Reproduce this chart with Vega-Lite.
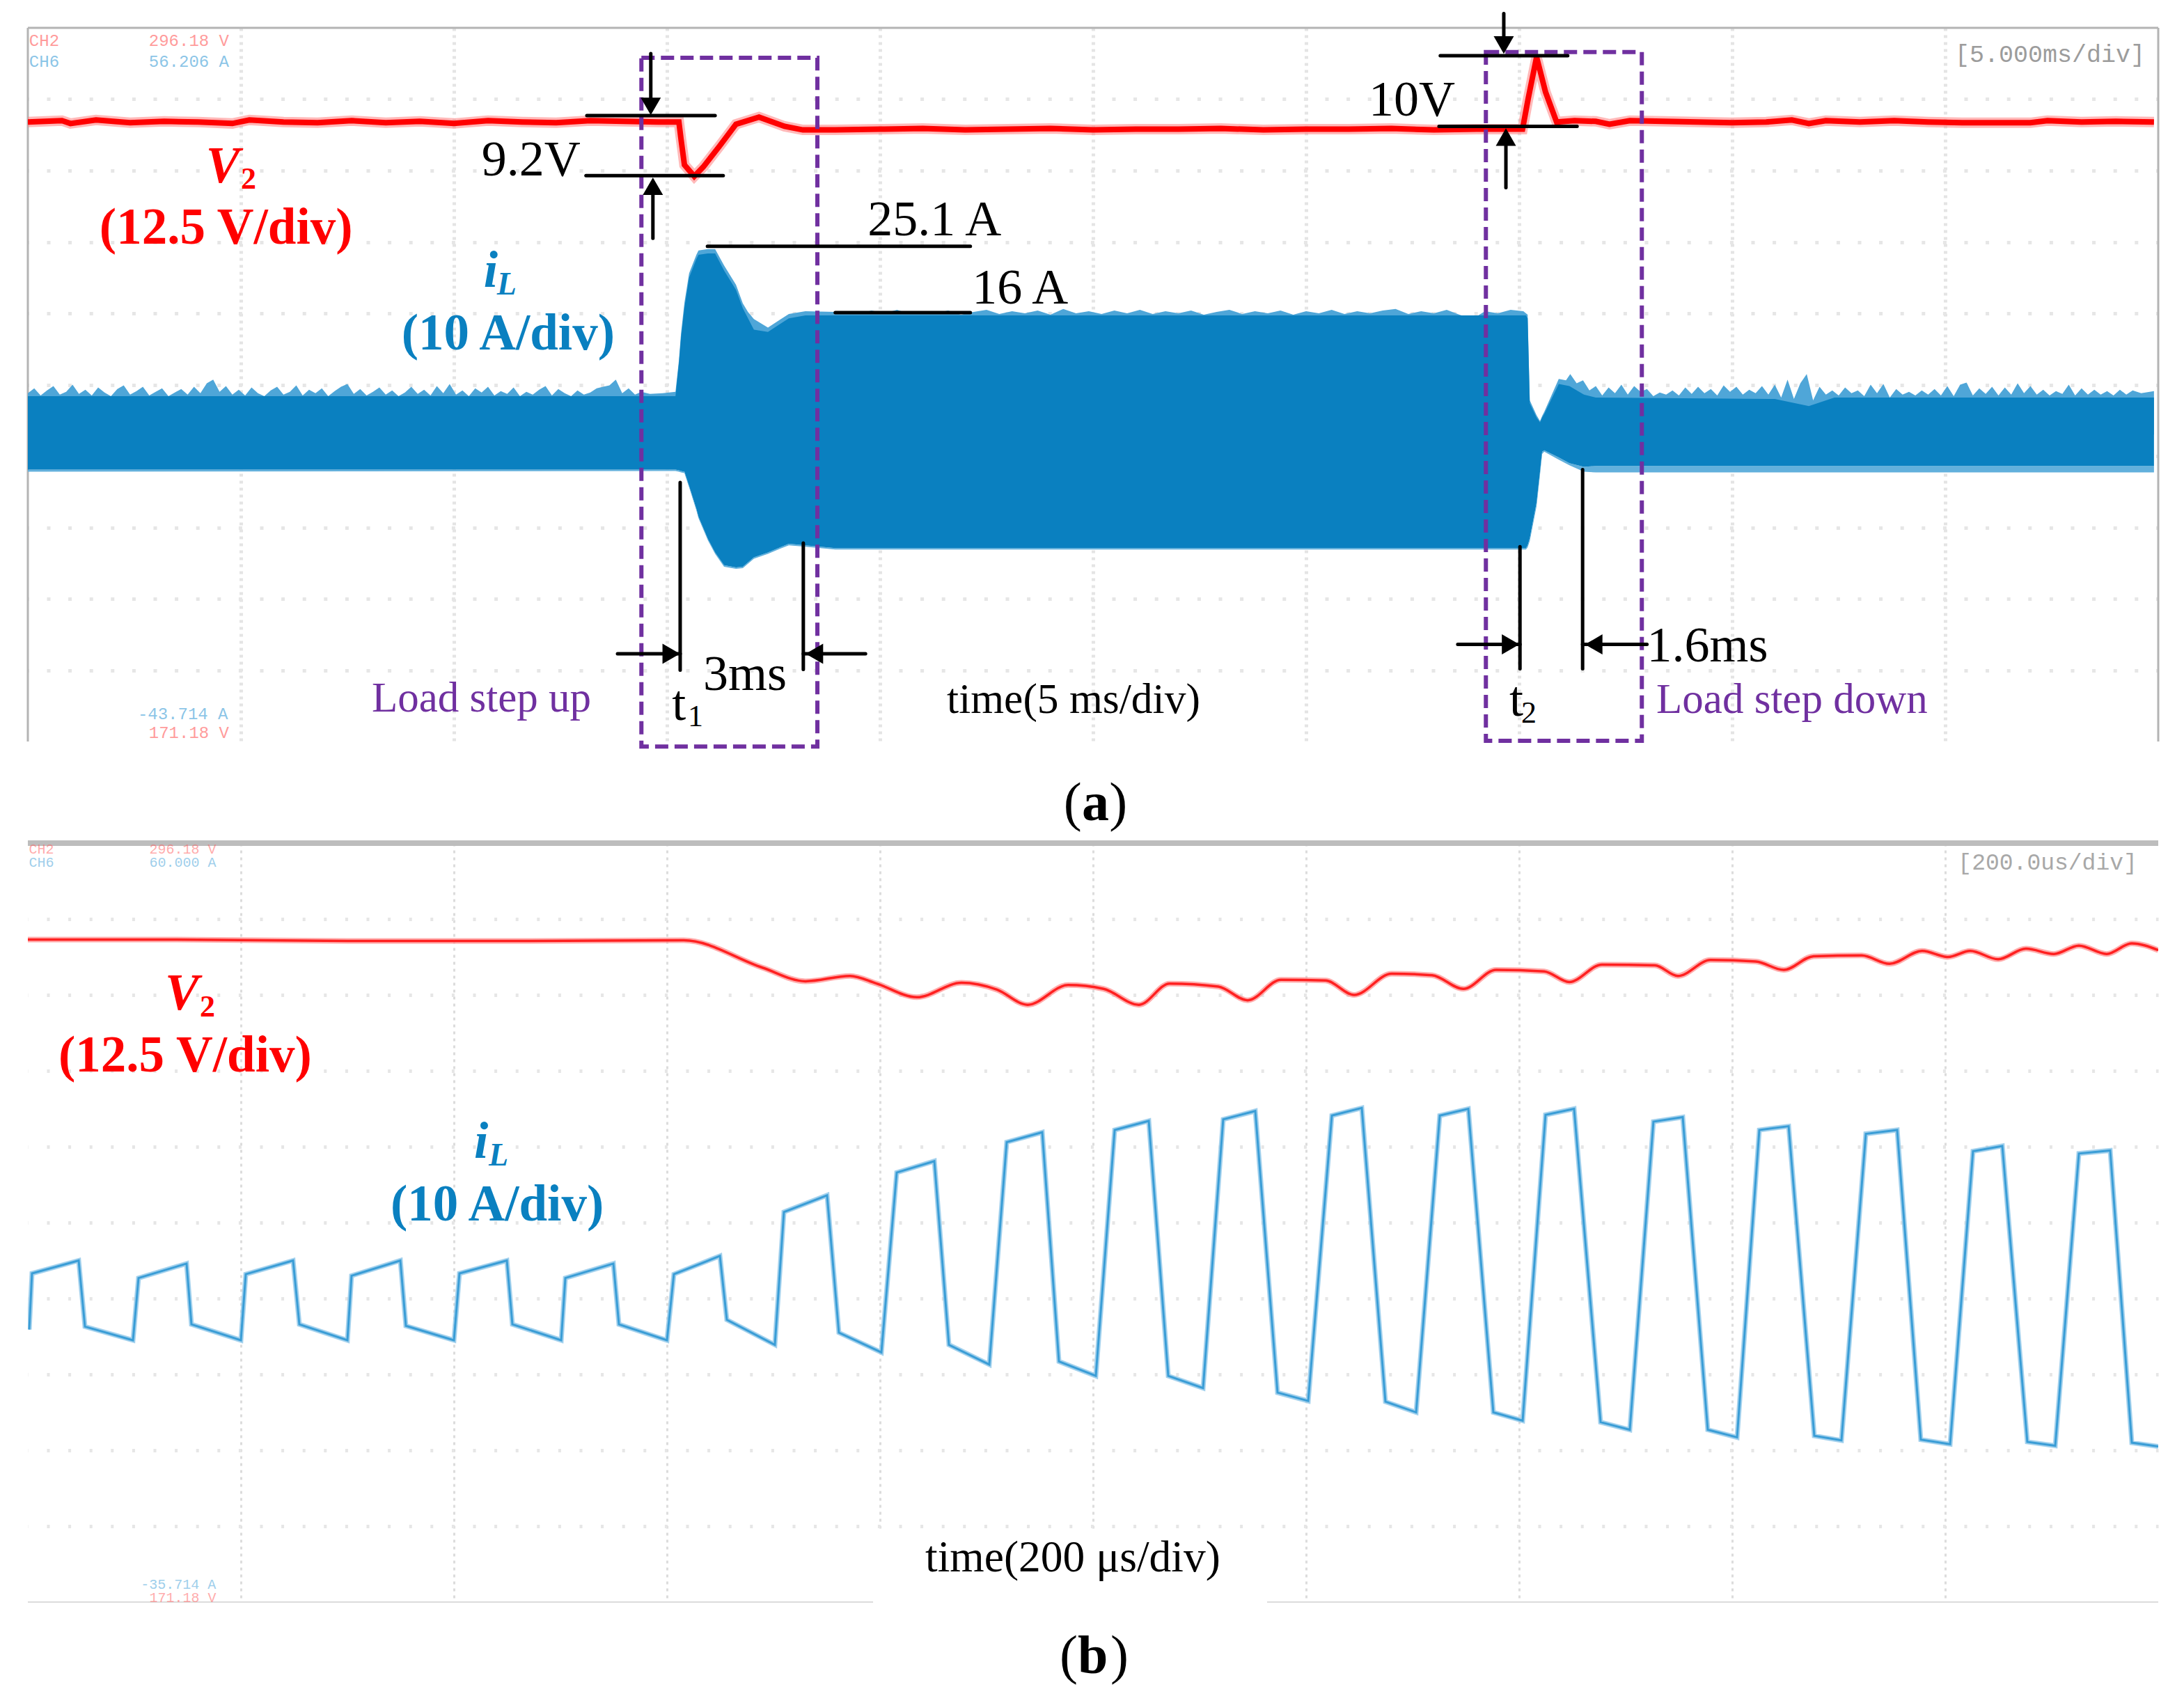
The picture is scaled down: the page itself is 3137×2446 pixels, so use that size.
{
"$schema":"https://vega.github.io/schema/vega-lite/v6.json",
"background":"white",
"padding":{"left":36,"top":16,"right":30,"bottom":20},
"bounds":"flush",
"spacing":146,
"config":{"view":{"stroke":null},"axis":{"domain":false,"ticks":false,"labels":false,"title":null}},
"vconcat":[
{"width":3060,"height":1025,
"encoding":{
"x":{"field":"t","type":"quantitative","title":null,"scale":{"domain":[0,50],"nice":false,"zero":false},
"axis":{"values":[5,10,15,20,25,30,35,40,45],"grid":true,"gridColor":"#e4e4e4","gridWidth":5,"gridDash":[4,6],"domain":false,"ticks":false,"labels":false,"title":null}},
"y":{"field":"v","type":"quantitative","title":null,"scale":{"domain":[0,10],"nice":false,"zero":false},
"axis":{"values":[1,2,3,4,5,6,7,8,9],"grid":true,"gridColor":"#e6e6e6","gridWidth":5,"gridDash":[5,25.6],"gridDashOffset":3.6,"domain":false,"ticks":false,"labels":false,"title":null}}
},
"layer":[
{"data":{"values":[{"t":0,"t2":50,"v":10}]},"mark":{"type":"rule","color":"#b4b4b4","strokeWidth":3},"encoding":{"x2":{"field":"t2"}}},
{"data":{"values":[{"t":0,"v":0,"v2":10},{"t":50,"v":0,"v2":10}]},"mark":{"type":"rule","color":"#b4b4b4","strokeWidth":3},"encoding":{"y2":{"field":"v2"}}},
{"data":{"name":"aNoise"},"mark":{"type":"area","color":"#4fa6d8","clip":true},"encoding":{"y":{"field":"p","type":"quantitative"},"y2":{"datum":4.3}}},
{"data":{"name":"aBlue"},"mark":{"type":"area","color":"#62b0dc","clip":true},"encoding":{"y":{"field":"lo","type":"quantitative"},"y2":{"field":"dip"}}},
{"data":{"name":"aBlue"},"mark":{"type":"area","color":"#0a80c0","clip":true},"encoding":{"y":{"field":"hi","type":"quantitative"},"y2":{"field":"lo"}}},
{"data":{"name":"aRed"},"mark":{"type":"line","color":"#ff8080","strokeWidth":15,"opacity":0.55,"clip":true}},
{"data":{"name":"aRed"},"mark":{"type":"line","color":"#ff0000","strokeWidth":8,"clip":true}},
{"data":{"values":[{"t":14.4,"t2":18.53,"v":9.58,"v2":-0.07},{"t":34.22,"t2":37.88,"v":9.66,"v2":0.01}]},"mark":{"type":"rect","filled":false,"stroke":"#7030a0","strokeWidth":6,"strokeDash":[19,9]},"encoding":{"x2":{"field":"t2"},"y2":{"field":"v2"}}},
{"data":{"values":[
{"t":13.12,"t2":16.13,"v":8.77},{"t":13.10,"t2":16.32,"v":7.93},{"t":15.95,"t2":22.12,"v":6.94},{"t":18.95,"t2":22.12,"v":6.01},{"t":33.15,"t2":36.14,"v":9.61},{"t":33.12,"t2":36.36,"v":8.62},
{"t":13.84,"t2":15.31,"v":1.23},{"t":18.20,"t2":19.66,"v":1.23},{"t":33.56,"t2":35.02,"v":1.36},{"t":36.49,"t2":38.0,"v":1.36}]},
"mark":{"type":"rule","color":"#000000","strokeWidth":5,"strokeCap":"round"},"encoding":{"x2":{"field":"t2"}}},
{"data":{"values":[
{"t":15.31,"v":3.63,"v2":1.0},{"t":18.20,"v":2.78,"v2":1.01},{"t":35.02,"v":2.73,"v2":1.02},{"t":36.49,"v":3.81,"v2":1.02},
{"t":14.62,"v":9.64,"v2":8.93},{"t":14.67,"v":7.78,"v2":7.05},{"t":34.64,"v":10.2,"v2":9.8},{"t":34.69,"v":8.44,"v2":7.76}]},
"mark":{"type":"rule","color":"#000000","strokeWidth":5,"strokeCap":"round"},"encoding":{"y2":{"field":"v2"}}},
{"data":{"values":[
{"t":14.62,"v":8.90,"dir":"down"},{"t":14.67,"v":7.78,"dir":"up"},{"t":34.64,"v":9.76,"dir":"down"},{"t":34.69,"v":8.47,"dir":"up"},
{"t":15.10,"v":1.23,"dir":"right"},{"t":18.46,"v":1.23,"dir":"left"},{"t":34.80,"v":1.36,"dir":"right"},{"t":36.75,"v":1.36,"dir":"left"}]},
"mark":{"type":"point","filled":true,"size":841,"color":"#000000","opacity":1},
"encoding":{"shape":{"field":"dir","type":"nominal","legend":null,"scale":{"domain":["down","up","left","right"],"range":["triangle-down","triangle-up","triangle-left","triangle-right"]}}}},
{"data":{"values":[
{"t":10.65,"v":7.93,"label":"9.2V"},{"t":19.71,"v":7.09,"label":"25.1 A"},{"t":22.16,"v":6.14,"label":"16 A"},{"t":31.47,"v":8.77,"label":"10V"},{"t":15.85,"v":0.72,"label":"3ms"},{"t":15.12,"v":0.30,"label":"t"},{"t":34.77,"v":0.36,"label":"t"},{"t":38.0,"v":1.12,"label":"1.6ms"}]},
"mark":{"type":"text","align":"left","baseline":"alphabetic","font":"Liberation Serif","fontSize":72,"color":"#000000"},"encoding":{"text":{"field":"label"}}},
{"data":{"values":[{"t":15.49,"v":0.21,"label":"1"},{"t":35.05,"v":0.26,"label":"2"}]},
"mark":{"type":"text","align":"left","baseline":"alphabetic","font":"Liberation Serif","fontSize":44,"color":"#000000"},"encoding":{"text":{"field":"label"}}},
{"data":{"values":[{"t":8.07,"v":0.42,"label":"Load step up"},{"t":38.22,"v":0.40,"label":"Load step down"}]},
"mark":{"type":"text","align":"left","baseline":"alphabetic","font":"Liberation Serif","fontSize":61,"color":"#7030a0"},"encoding":{"text":{"field":"label"}}},
{"data":{"values":[{"t":21.57,"v":0.40,"label":"time(5 ms/div)"}]},
"mark":{"type":"text","align":"left","baseline":"alphabetic","font":"Liberation Serif","fontSize":61.5,"color":"#000000"},"encoding":{"text":{"field":"label"}}},
{"data":{"values":[{"t":4.18,"v":7.83,"label":"V"}]},"mark":{"type":"text","align":"left","baseline":"alphabetic","font":"Liberation Serif","fontSize":73,"fontWeight":"bold","fontStyle":"italic","color":"#ff0000"},"encoding":{"text":{"field":"label"}}},
{"data":{"values":[{"t":5.0,"v":7.75,"label":"2"}]},"mark":{"type":"text","align":"left","baseline":"alphabetic","font":"Liberation Serif","fontSize":44,"fontWeight":"bold","color":"#ff0000"},"encoding":{"text":{"field":"label"}}},
{"data":{"values":[{"t":1.68,"v":6.98,"label":"(12.5 V/div)"}]},"mark":{"type":"text","align":"left","baseline":"alphabetic","font":"Liberation Serif","fontSize":73,"fontWeight":"bold","color":"#ff0000"},"encoding":{"text":{"field":"label"}}},
{"data":{"values":[{"t":10.70,"v":6.37,"label":"i"}]},"mark":{"type":"text","align":"left","baseline":"alphabetic","font":"Liberation Serif","fontSize":73,"fontWeight":"bold","fontStyle":"italic","color":"#0a80c0"},"encoding":{"text":{"field":"label"}}},
{"data":{"values":[{"t":11.01,"v":6.26,"label":"L"}]},"mark":{"type":"text","align":"left","baseline":"alphabetic","font":"Liberation Serif","fontSize":46,"fontWeight":"bold","fontStyle":"italic","color":"#0a80c0"},"encoding":{"text":{"field":"label"}}},
{"data":{"values":[{"t":8.77,"v":5.49,"label":"(10 A/div)"}]},"mark":{"type":"text","align":"left","baseline":"alphabetic","font":"Liberation Serif","fontSize":73,"fontWeight":"bold","color":"#0a80c0"},"encoding":{"text":{"field":"label"}}},
{"data":{"values":[{"t":24.31,"v":-1.10,"label":"("},{"t":25.38,"v":-1.10,"label":")"}]},"mark":{"type":"text","align":"left","baseline":"alphabetic","font":"Liberation Serif","fontSize":78,"color":"#000000"},"encoding":{"text":{"field":"label"}}},
{"data":{"values":[{"t":24.74,"v":-1.10,"label":"a"}]},"mark":{"type":"text","align":"left","baseline":"alphabetic","font":"Liberation Serif","fontSize":78,"fontWeight":"bold","color":"#000000"},"encoding":{"text":{"field":"label"}}},
{"data":{"values":[{"t":0.03,"v":9.75,"label":"CH2"},{"t":2.84,"v":9.75,"label":"296.18 V"},{"t":2.84,"v":0.05,"label":"171.18 V"}]},"mark":{"type":"text","align":"left","baseline":"alphabetic","font":"Liberation Mono","fontSize":24,"color":"#ff5a5a","opacity":0.6},"encoding":{"text":{"field":"label"}}},
{"data":{"values":[{"t":0.03,"v":9.45,"label":"CH6"},{"t":2.84,"v":9.45,"label":"56.206 A"},{"t":2.58,"v":0.31,"label":"-43.714 A"}]},"mark":{"type":"text","align":"left","baseline":"alphabetic","font":"Liberation Mono","fontSize":24,"color":"#3f9fd8","opacity":0.6},"encoding":{"text":{"field":"label"}}},
{"data":{"values":[{"t":45.23,"v":9.52,"label":"[5.000ms/div]"}]},"mark":{"type":"text","align":"left","baseline":"alphabetic","font":"Liberation Mono","fontSize":35,"color":"#9c9c9c"},"encoding":{"text":{"field":"label"}}}
]},
{"width":3060,"height":1090,
"encoding":{
"x":{"field":"t","type":"quantitative","title":null,"scale":{"domain":[0,2000],"nice":false,"zero":false},
"axis":{"values":[200,400,600,800,1000,1200,1400,1600,1800],"grid":true,"gridColor":"#dcdcdc","gridWidth":3,"gridDash":[4,6],"domain":false,"ticks":false,"labels":false,"title":null}},
"y":{"field":"v","type":"quantitative","title":null,"scale":{"domain":[0,10],"nice":false,"zero":false},
"axis":{"values":[1,2,3,4,5,6,7,8,9],"grid":true,"gridColor":"#e6e6e6","gridWidth":5,"gridDash":[4,26.6],"gridDashOffset":3.6,"domain":false,"ticks":false,"labels":false,"title":null}}
},
"layer":[
{"data":{"values":[{"t":793.5,"t2":1163.4,"v":0,"v2":0.95}]},"mark":{"type":"rect","color":"#ffffff"},"encoding":{"x2":{"field":"t2"},"y2":{"field":"v2"}}},
{"data":{"values":[{"t":0,"t2":2000,"v":10}]},"mark":{"type":"rule","color":"#bdbdbd","strokeWidth":8},"encoding":{"x2":{"field":"t2"}}},
{"data":{"values":[{"t":0,"t2":793.5,"v":0},{"t":1163.4,"t2":2000,"v":0}]},"mark":{"type":"rule","color":"#d0d0d0","strokeWidth":1.5},"encoding":{"x2":{"field":"t2"}}},
{"data":{"name":"bBlue"},"mark":{"type":"line","color":"#8cc6e8","strokeWidth":7,"opacity":0.8,"clip":true}},
{"data":{"name":"bBlue"},"mark":{"type":"line","color":"#3a9dd6","strokeWidth":3,"clip":true}},
{"data":{"name":"bRed"},"mark":{"type":"line","color":"#ff8a8a","strokeWidth":8,"opacity":0.7,"interpolate":"monotone","clip":true}},
{"data":{"name":"bRed"},"mark":{"type":"line","color":"#ff2020","strokeWidth":3.5,"interpolate":"monotone","clip":true}},
{"data":{"values":[{"t":128.8,"v":7.81,"label":"V"}]},"mark":{"type":"text","align":"left","baseline":"alphabetic","font":"Liberation Serif","fontSize":73,"fontWeight":"bold","fontStyle":"italic","color":"#ff0000"},"encoding":{"text":{"field":"label"}}},
{"data":{"values":[{"t":161.4,"v":7.72,"label":"2"}]},"mark":{"type":"text","align":"left","baseline":"alphabetic","font":"Liberation Serif","fontSize":44,"fontWeight":"bold","color":"#ff0000"},"encoding":{"text":{"field":"label"}}},
{"data":{"values":[{"t":28.8,"v":6.99,"label":"(12.5 V/div)"}]},"mark":{"type":"text","align":"left","baseline":"alphabetic","font":"Liberation Serif","fontSize":73,"fontWeight":"bold","color":"#ff0000"},"encoding":{"text":{"field":"label"}}},
{"data":{"values":[{"t":418.9,"v":5.85,"label":"i"}]},"mark":{"type":"text","align":"left","baseline":"alphabetic","font":"Liberation Serif","fontSize":73,"fontWeight":"bold","fontStyle":"italic","color":"#0a80c0"},"encoding":{"text":{"field":"label"}}},
{"data":{"values":[{"t":432.7,"v":5.75,"label":"L"}]},"mark":{"type":"text","align":"left","baseline":"alphabetic","font":"Liberation Serif","fontSize":46,"fontWeight":"bold","fontStyle":"italic","color":"#0a80c0"},"encoding":{"text":{"field":"label"}}},
{"data":{"values":[{"t":340.5,"v":5.03,"label":"(10 A/div)"}]},"mark":{"type":"text","align":"left","baseline":"alphabetic","font":"Liberation Serif","fontSize":73,"fontWeight":"bold","color":"#0a80c0"},"encoding":{"text":{"field":"label"}}},
{"data":{"values":[{"t":842.5,"v":0.40,"label":"time(200 μs/div)"}]},"mark":{"type":"text","align":"left","baseline":"alphabetic","font":"Liberation Serif","fontSize":63.5,"color":"#000000"},"encoding":{"text":{"field":"label"}}},
{"data":{"values":[{"t":968.6,"v":-0.94,"label":"("},{"t":1016.3,"v":-0.94,"label":")"}]},"mark":{"type":"text","align":"left","baseline":"alphabetic","font":"Liberation Serif","fontSize":78,"color":"#000000"},"encoding":{"text":{"field":"label"}}},
{"data":{"values":[{"t":985.6,"v":-0.94,"label":"b"}]},"mark":{"type":"text","align":"left","baseline":"alphabetic","font":"Liberation Serif","fontSize":78,"fontWeight":"bold","color":"#000000"},"encoding":{"text":{"field":"label"}}},
{"data":{"values":[{"t":1,"v":9.86,"label":"CH2"},{"t":114,"v":9.86,"label":"296.18 V"},{"t":114,"v":0.0,"label":"171.18 V"}]},"mark":{"type":"text","align":"left","baseline":"alphabetic","font":"Liberation Mono","fontSize":20,"color":"#ff5a5a","opacity":0.5},"encoding":{"text":{"field":"label"}}},
{"data":{"values":[{"t":1,"v":9.69,"label":"CH6"},{"t":114,"v":9.69,"label":"60.000 A"},{"t":106,"v":0.17,"label":"-35.714 A"}]},"mark":{"type":"text","align":"left","baseline":"alphabetic","font":"Liberation Mono","fontSize":20,"color":"#3f9fd8","opacity":0.5},"encoding":{"text":{"field":"label"}}},
{"data":{"values":[{"t":1812,"v":9.65,"label":"[200.0us/div]"}]},"mark":{"type":"text","align":"left","baseline":"alphabetic","font":"Liberation Mono","fontSize":33,"color":"#a8a8a8"},"encoding":{"text":{"field":"label"}}}
]}
],
"datasets":{
"aRed":[
{"t":0,"v":8.68},{"t":0.8,"v":8.70},{"t":1.0,"v":8.66},{"t":1.6,"v":8.71},{"t":2.4,"v":8.67},{"t":3.2,"v":8.69},{"t":4.0,"v":8.68},{"t":4.8,"v":8.66},{"t":5.2,"v":8.71},{"t":6.0,"v":8.68},{"t":6.8,"v":8.67},{"t":7.6,"v":8.70},{"t":8.4,"v":8.67},{"t":9.2,"v":8.69},{"t":10.0,"v":8.66},{"t":10.8,"v":8.70},{"t":11.6,"v":8.68},{"t":12.4,"v":8.67},{"t":13.2,"v":8.70},{"t":14.0,"v":8.69},{"t":14.8,"v":8.68},{"t":15.28,"v":8.68},
{"t":15.33,"v":8.44},{"t":15.41,"v":8.08},{"t":15.64,"v":7.92},{"t":15.85,"v":8.05},{"t":16.23,"v":8.34},{"t":16.62,"v":8.65},{"t":17.16,"v":8.75},{"t":17.76,"v":8.62},{"t":18.19,"v":8.57},{"t":18.95,"v":8.57},
{"t":20,"v":8.58},{"t":21,"v":8.59},{"t":22,"v":8.57},{"t":23,"v":8.58},{"t":24,"v":8.59},{"t":25,"v":8.57},{"t":26,"v":8.58},{"t":27,"v":8.58},{"t":28,"v":8.59},{"t":29,"v":8.57},{"t":30,"v":8.58},{"t":31,"v":8.58},{"t":32,"v":8.59},{"t":33,"v":8.57},{"t":34,"v":8.58},{"t":35.08,"v":8.58},
{"t":35.21,"v":9.0},{"t":35.41,"v":9.59},{"t":35.62,"v":9.1},{"t":35.88,"v":8.68},{"t":36.3,"v":8.70},{"t":36.8,"v":8.69},{"t":37.12,"v":8.65},{"t":37.6,"v":8.70},{"t":38.4,"v":8.69},{"t":39.2,"v":8.68},{"t":40.0,"v":8.67},{"t":40.8,"v":8.68},{"t":41.4,"v":8.71},{"t":41.8,"v":8.66},{"t":42.2,"v":8.70},{"t":43.0,"v":8.68},{"t":43.8,"v":8.70},{"t":44.6,"v":8.68},{"t":45.4,"v":8.67},{"t":46.2,"v":8.67},{"t":47.0,"v":8.67},{"t":47.4,"v":8.70},{"t":48.2,"v":8.68},{"t":49.0,"v":8.69},{"t":49.9,"v":8.68}
],
"aNoise":[
{"t":0,"p":4.88},{"t":0.15,"p":4.95},{"t":0.3,"p":4.85},{"t":0.45,"p":4.92},{"t":0.6,"p":4.98},{"t":0.75,"p":4.86},{"t":0.9,"p":4.90},{"t":1.05,"p":5.0},{"t":1.2,"p":4.87},{"t":1.35,"p":4.93},{"t":1.5,"p":4.85},{"t":1.65,"p":4.96},{"t":1.8,"p":4.89},{"t":1.95,"p":4.84},{"t":2.1,"p":4.94},{"t":2.25,"p":4.99},{"t":2.4,"p":4.86},{"t":2.55,"p":4.91},{"t":2.7,"p":4.97},{"t":2.85,"p":4.85},{"t":3.0,"p":4.90},{"t":3.15,"p":4.95},{"t":3.3,"p":4.84},{"t":3.45,"p":4.89},{"t":3.6,"p":4.94},{"t":3.75,"p":4.86},{"t":3.9,"p":4.97},{"t":4.05,"p":4.88},{"t":4.2,"p":5.02},{"t":4.35,"p":5.07},{"t":4.5,"p":4.90},{"t":4.65,"p":4.98},{"t":4.8,"p":4.86},{"t":4.95,"p":4.93},{"t":5.1,"p":4.85},{"t":5.25,"p":4.96},{"t":5.4,"p":4.88},{"t":5.55,"p":4.84},{"t":5.7,"p":4.92},{"t":5.85,"p":4.97},{"t":6.0,"p":4.86},{"t":6.15,"p":4.90},{"t":6.3,"p":4.99},{"t":6.45,"p":4.85},{"t":6.6,"p":4.93},{"t":6.75,"p":4.88},{"t":6.9,"p":4.95},{"t":7.05,"p":4.84},{"t":7.2,"p":4.91},{"t":7.35,"p":4.97},{"t":7.5,"p":5.01},{"t":7.65,"p":4.87},{"t":7.8,"p":4.94},{"t":7.95,"p":4.85},{"t":8.1,"p":4.90},{"t":8.25,"p":4.96},{"t":8.4,"p":4.86},{"t":8.55,"p":4.92},{"t":8.7,"p":4.84},{"t":8.85,"p":4.89},{"t":9.0,"p":4.97},{"t":9.15,"p":4.87},{"t":9.3,"p":4.93},{"t":9.45,"p":4.85},{"t":9.6,"p":4.98},{"t":9.75,"p":4.88},{"t":9.9,"p":5.01},{"t":10.05,"p":4.86},{"t":10.2,"p":4.92},{"t":10.35,"p":4.84},{"t":10.5,"p":4.95},{"t":10.65,"p":4.89},{"t":10.8,"p":4.97},{"t":10.95,"p":4.85},{"t":11.1,"p":4.91},{"t":11.25,"p":4.87},{"t":11.4,"p":4.96},{"t":11.55,"p":4.84},{"t":11.7,"p":4.90},{"t":11.85,"p":4.86},{"t":12.0,"p":4.93},{"t":12.15,"p":4.98},{"t":12.3,"p":4.85},{"t":12.45,"p":4.94},{"t":12.6,"p":4.88},{"t":12.75,"p":4.84},{"t":12.9,"p":4.92},{"t":13.05,"p":4.86},{"t":13.2,"p":4.89},{"t":13.35,"p":4.95},{"t":13.5,"p":4.97},{"t":13.65,"p":4.99},{"t":13.8,"p":5.07},{"t":13.95,"p":4.88},{"t":14.1,"p":4.95},{"t":14.25,"p":4.86},{"t":14.4,"p":4.90},{"t":14.6,"p":4.87},{"t":14.9,"p":4.88},{"t":15.2,"p":4.90},
{"t":15.28,"p":5.34},{"t":15.33,"p":5.72},{"t":15.41,"p":6.15},{"t":15.52,"p":6.56},{"t":15.69,"p":6.82},{"t":15.74,"p":6.88},{"t":15.96,"p":6.90},{"t":16.13,"p":6.90},{"t":16.34,"p":6.67},{"t":16.62,"p":6.40},{"t":16.78,"p":6.14},{"t":16.9,"p":6.02},{"t":17.04,"p":5.92},{"t":17.37,"p":5.80},{"t":17.65,"p":5.91},{"t":17.86,"p":5.99},{"t":18.25,"p":6.03},{"t":18.95,"p":6.02},
{"t":19.2,"p":6.03},{"t":19.5,"p":5.99},{"t":19.8,"p":6.04},{"t":20.1,"p":6.0},{"t":20.4,"p":6.05},{"t":20.7,"p":5.99},{"t":21.0,"p":6.03},{"t":21.3,"p":6.0},{"t":21.6,"p":6.04},{"t":21.9,"p":5.98},{"t":22.2,"p":6.02},{"t":22.5,"p":6.05},{"t":22.8,"p":5.99},{"t":23.1,"p":6.03},{"t":23.4,"p":6.0},{"t":23.7,"p":6.04},{"t":24.0,"p":5.98},{"t":24.3,"p":6.06},{"t":24.6,"p":6.0},{"t":24.9,"p":6.03},{"t":25.2,"p":5.99},{"t":25.5,"p":6.04},{"t":25.8,"p":6.0},{"t":26.1,"p":6.05},{"t":26.4,"p":5.99},{"t":26.7,"p":6.03},{"t":27.0,"p":6.0},{"t":27.3,"p":6.04},{"t":27.6,"p":5.98},{"t":27.9,"p":6.02},{"t":28.2,"p":6.05},{"t":28.5,"p":5.99},{"t":28.8,"p":6.03},{"t":29.1,"p":6.0},{"t":29.4,"p":6.04},{"t":29.7,"p":5.98},{"t":30.0,"p":6.03},{"t":30.3,"p":6.0},{"t":30.6,"p":6.05},{"t":30.9,"p":5.99},{"t":31.2,"p":6.03},{"t":31.5,"p":6.0},{"t":31.8,"p":6.04},{"t":32.1,"p":6.06},{"t":32.4,"p":5.99},{"t":32.7,"p":6.03},{"t":33.0,"p":6.0},{"t":33.3,"p":6.05},{"t":33.6,"p":5.98},{"t":33.9,"p":5.92},{"t":34.2,"p":6.03},{"t":34.5,"p":6.0},{"t":34.8,"p":6.05},{"t":35.1,"p":6.03},{"t":35.2,"p":5.98},
{"t":35.25,"p":4.78},{"t":35.41,"p":4.57},{"t":35.49,"p":4.49},{"t":35.54,"p":4.56},{"t":35.59,"p":4.62},{"t":35.93,"p":5.08},{"t":36.1,"p":5.06},{"t":36.2,"p":5.15},{"t":36.35,"p":5.02},{"t":36.5,"p":5.06},{"t":36.65,"p":4.92},{"t":36.8,"p":4.98},{"t":36.95,"p":4.85},{"t":37.1,"p":4.96},{"t":37.25,"p":4.88},{"t":37.4,"p":5.0},{"t":37.55,"p":4.86},{"t":37.7,"p":4.98},{"t":37.85,"p":4.90},{"t":38.0,"p":4.94},{"t":38.15,"p":4.84},{"t":38.3,"p":4.89},{"t":38.45,"p":4.86},{"t":38.6,"p":4.92},{"t":38.75,"p":4.85},{"t":38.9,"p":4.96},{"t":39.05,"p":4.87},{"t":39.2,"p":4.97},{"t":39.35,"p":4.88},{"t":39.5,"p":4.94},{"t":39.65,"p":4.85},{"t":39.8,"p":4.99},{"t":39.95,"p":4.90},{"t":40.1,"p":4.97},{"t":40.25,"p":4.86},{"t":40.4,"p":4.93},{"t":40.55,"p":4.88},{"t":40.7,"p":4.98},{"t":40.85,"p":4.86},{"t":41.0,"p":5.0},{"t":41.15,"p":4.82},{"t":41.3,"p":5.07},{"t":41.45,"p":4.80},{"t":41.6,"p":5.02},{"t":41.75,"p":5.15},{"t":41.9,"p":4.78},{"t":42.05,"p":4.97},{"t":42.2,"p":4.86},{"t":42.35,"p":4.92},{"t":42.5,"p":4.85},{"t":42.65,"p":4.96},{"t":42.8,"p":4.88},{"t":42.95,"p":4.92},{"t":43.1,"p":4.84},{"t":43.25,"p":5.0},{"t":43.4,"p":4.88},{"t":43.55,"p":5.01},{"t":43.7,"p":4.82},{"t":43.85,"p":4.94},{"t":44.0,"p":4.86},{"t":44.15,"p":4.90},{"t":44.3,"p":4.85},{"t":44.45,"p":4.92},{"t":44.6,"p":4.86},{"t":44.75,"p":4.94},{"t":44.9,"p":4.85},{"t":45.05,"p":4.98},{"t":45.2,"p":4.84},{"t":45.35,"p":5.0},{"t":45.5,"p":5.03},{"t":45.65,"p":4.85},{"t":45.8,"p":4.95},{"t":45.95,"p":4.87},{"t":46.1,"p":4.97},{"t":46.25,"p":4.85},{"t":46.4,"p":4.96},{"t":46.55,"p":4.86},{"t":46.7,"p":5.02},{"t":46.85,"p":4.88},{"t":47.0,"p":4.98},{"t":47.15,"p":4.86},{"t":47.3,"p":4.93},{"t":47.45,"p":4.85},{"t":47.6,"p":4.91},{"t":47.75,"p":4.87},{"t":47.9,"p":5.0},{"t":48.05,"p":4.85},{"t":48.2,"p":4.95},{"t":48.35,"p":4.86},{"t":48.5,"p":4.93},{"t":48.65,"p":4.86},{"t":48.8,"p":4.91},{"t":48.95,"p":4.85},{"t":49.1,"p":4.93},{"t":49.25,"p":4.86},{"t":49.4,"p":4.92},{"t":49.6,"p":4.88},{"t":49.9,"p":4.91}
],
"aBlue":[
{"t":0,"hi":4.84,"lo":3.81,"dip":3.78},{"t":15.2,"hi":4.84,"lo":3.81,"dip":3.79},
{"t":15.28,"hi":5.30,"lo":3.80,"dip":3.78},{"t":15.33,"hi":5.66,"lo":3.79,"dip":3.77},{"t":15.41,"hi":6.08,"lo":3.78,"dip":3.76},{"t":15.52,"hi":6.50,"lo":3.58,"dip":3.56},{"t":15.69,"hi":6.76,"lo":3.26,"dip":3.24},{"t":15.74,"hi":6.82,"lo":3.15,"dip":3.13},{"t":15.96,"hi":6.84,"lo":2.84,"dip":2.82},{"t":16.13,"hi":6.84,"lo":2.65,"dip":2.63},{"t":16.34,"hi":6.60,"lo":2.47,"dip":2.45},{"t":16.62,"hi":6.33,"lo":2.44,"dip":2.42},{"t":16.78,"hi":6.07,"lo":2.45,"dip":2.43},{"t":17.04,"hi":5.77,"lo":2.58,"dip":2.56},{"t":17.37,"hi":5.74,"lo":2.65,"dip":2.63},{"t":17.65,"hi":5.85,"lo":2.72,"dip":2.70},{"t":17.86,"hi":5.93,"lo":2.77,"dip":2.75},{"t":18.25,"hi":5.97,"lo":2.75,"dip":2.73},{"t":18.95,"hi":5.97,"lo":2.71,"dip":2.69},
{"t":35.16,"hi":5.97,"lo":2.71,"dip":2.69},{"t":35.2,"hi":5.93,"lo":2.75,"dip":2.72},
{"t":35.25,"hi":4.74,"lo":2.85,"dip":2.81},{"t":35.41,"hi":4.54,"lo":3.35,"dip":3.30},{"t":35.49,"hi":4.47,"lo":3.78,"dip":3.74},{"t":35.54,"hi":4.54,"lo":4.06,"dip":4.03},{"t":35.59,"hi":4.59,"lo":4.08,"dip":4.06},{"t":35.93,"hi":5.01,"lo":3.98,"dip":3.95},{"t":36.18,"hi":4.98,"lo":3.90,"dip":3.87},{"t":36.52,"hi":4.86,"lo":3.85,"dip":3.78},
{"t":36.8,"hi":4.82,"lo":3.86,"dip":3.77},{"t":41.0,"hi":4.80,"lo":3.86,"dip":3.77},{"t":41.8,"hi":4.70,"lo":3.86,"dip":3.77},{"t":42.4,"hi":4.82,"lo":3.86,"dip":3.77},{"t":49.9,"hi":4.82,"lo":3.86,"dip":3.77}
],
"bBlue":[
{"t":1.3,"v":3.59},{"t":3.9,"v":4.33},{"t":47.7,"v":4.50},{"t":53.6,"v":3.63},{"t":98.7,"v":3.45},{"t":103.9,"v":4.27},{"t":149.0,"v":4.46},{"t":153.6,"v":3.66},{"t":200,"v":3.45},{"t":204.6,"v":4.32},{"t":249.0,"v":4.50},{"t":254.9,"v":3.66},{"t":300,"v":3.45},{"t":303.9,"v":4.30},{"t":349.7,"v":4.50},{"t":354.9,"v":3.64},{"t":400,"v":3.45},{"t":405.2,"v":4.33},{"t":449.7,"v":4.50},{"t":454.9,"v":3.66},{"t":500.7,"v":3.45},{"t":504.6,"v":4.27},{"t":549.7,"v":4.46},{"t":554.9,"v":3.66},{"t":600,"v":3.45},{"t":606.5,"v":4.32},{"t":649.7,"v":4.56},{"t":656.2,"v":3.72},{"t":701.3,"v":3.39},{"t":709.8,"v":5.14},{"t":750.3,"v":5.36},{"t":761.4,"v":3.55},{"t":801.3,"v":3.29},{"t":815.7,"v":5.66},{"t":851,"v":5.81},{"t":864.7,"v":3.39},{"t":902.6,"v":3.13},{"t":918.95,"v":6.06},{"t":952.3,"v":6.19},{"t":968,"v":3.17},{"t":1002.6,"v":2.98},{"t":1020.3,"v":6.22},{"t":1052.3,"v":6.34},{"t":1070.6,"v":2.98},{"t":1103.3,"v":2.82},{"t":1122.2,"v":6.36},{"t":1152.3,"v":6.47},{"t":1173.2,"v":2.76},{"t":1202,"v":2.65},{"t":1224.2,"v":6.41},{"t":1252.3,"v":6.51},{"t":1274.5,"v":2.64},{"t":1303.3,"v":2.50},{"t":1325.5,"v":6.41},{"t":1352.3,"v":6.50},{"t":1375.8,"v":2.50},{"t":1403.3,"v":2.39},{"t":1424.8,"v":6.42},{"t":1451.6,"v":6.50},{"t":1476.5,"v":2.37},{"t":1503.9,"v":2.27},{"t":1526.1,"v":6.33},{"t":1553.6,"v":6.39},{"t":1577.1,"v":2.27},{"t":1604.6,"v":2.17},{"t":1625.5,"v":6.22},{"t":1653,"v":6.27},{"t":1677.1,"v":2.19},{"t":1702.6,"v":2.13},{"t":1725.5,"v":6.17},{"t":1754.9,"v":6.22},{"t":1777.1,"v":2.14},{"t":1804.6,"v":2.08},{"t":1826.1,"v":5.94},{"t":1853.6,"v":6.01},{"t":1877.1,"v":2.11},{"t":1903.3,"v":2.06},{"t":1925.5,"v":5.91},{"t":1954.9,"v":5.95},{"t":1975.2,"v":2.10},{"t":2000,"v":2.05}
],
"bRed":[
{"t":0,"v":8.73},{"t":137,"v":8.73},{"t":300,"v":8.71},{"t":460,"v":8.71},{"t":615.7,"v":8.72},{"t":689.5,"v":8.36},{"t":730,"v":8.18},{"t":771.9,"v":8.25},{"t":796.7,"v":8.15},{"t":834.6,"v":7.97},{"t":876.5,"v":8.16},{"t":909.8,"v":8.07},{"t":938.6,"v":7.87},{"t":976.5,"v":8.13},{"t":1009.8,"v":8.08},{"t":1043.1,"v":7.87},{"t":1071.9,"v":8.15},{"t":1117.6,"v":8.11},{"t":1145.1,"v":7.93},{"t":1176.5,"v":8.20},{"t":1218.3,"v":8.19},{"t":1245.1,"v":8.00},{"t":1280.4,"v":8.28},{"t":1318.3,"v":8.26},{"t":1347.7,"v":8.08},{"t":1378.4,"v":8.33},{"t":1423.5,"v":8.31},{"t":1447.1,"v":8.17},{"t":1477.8,"v":8.40},{"t":1527.5,"v":8.39},{"t":1549,"v":8.25},{"t":1579.7,"v":8.46},{"t":1622.2,"v":8.44},{"t":1648.4,"v":8.33},{"t":1676.5,"v":8.51},{"t":1721.6,"v":8.52},{"t":1747.7,"v":8.41},{"t":1778.4,"v":8.58},{"t":1802.6,"v":8.50},{"t":1823.5,"v":8.58},{"t":1849.7,"v":8.47},{"t":1875.8,"v":8.61},{"t":1902,"v":8.54},{"t":1925.5,"v":8.65},{"t":1951.6,"v":8.54},{"t":1975.2,"v":8.68},{"t":2000,"v":8.59}
]
}
}
